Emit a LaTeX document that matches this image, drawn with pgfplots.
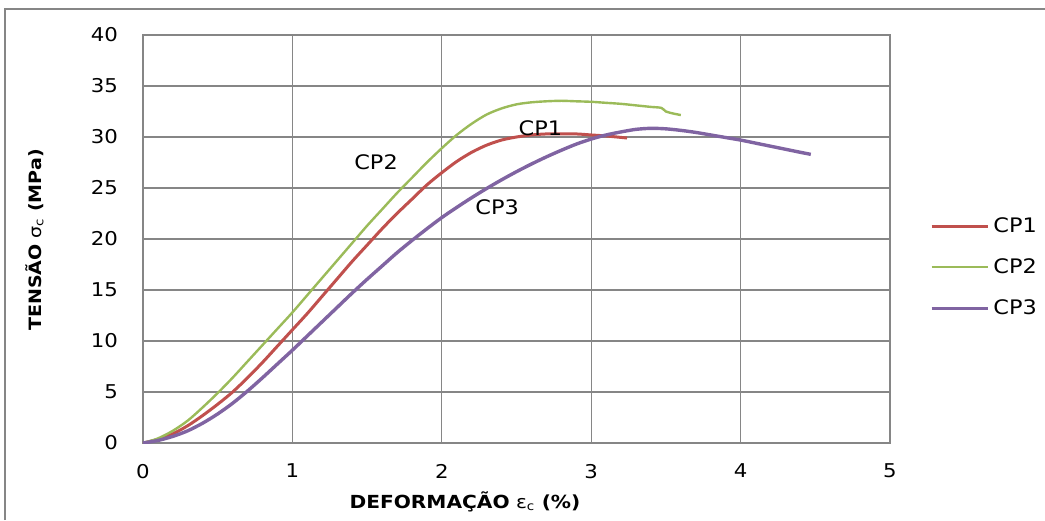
\documentclass[border=0pt]{standalone}
\usepackage{fontspec}
\setmainfont{DejaVu Sans}[FakeStretch=1.12]
\usepackage{pgfplots}
\pgfplotsset{compat=1.18}
\definecolor{cpred}{HTML}{C0504D}
\definecolor{cpgreen}{HTML}{9BBB59}
\definecolor{cppurple}{HTML}{8064A2}
\definecolor{gridgray}{HTML}{868686}

\begin{document}
\begin{tikzpicture}
\useasboundingbox (0,0) rectangle (522.5pt,260pt);
\draw[gridgray, line width=1pt] (2.5pt,0pt) -- (2.5pt,255.5pt) -- (522.5pt,255.5pt);
\begin{axis}[
  at={(71.5pt,38.5pt)}, anchor=south west,
  scale only axis, width=373.5pt, height=204pt,
  xmin=0, xmax=5, ymin=0, ymax=40,
  xtick={0,1,2,3,4,5}, ytick={0,5,10,15,20,25,30,35,40},
  grid=major,
  major grid style={gridgray, line width=0.6pt},
  axis line style={gridgray, line width=0.9pt},
  major tick length=0pt,
  tick label style={font=\fontsize{9.5}{11}\selectfont},
  /pgf/number format/assume math mode=true,
  xticklabel style={yshift=-7pt},
  yticklabel style={xshift=-9pt},
  xlabel={\textbf{DEFORMAÇÃO} ε\textsubscript{c} \textbf{(\%)}},
  ylabel={\textbf{TENSÃO} σ\textsubscript{c} \textbf{(MPa)}},
  xlabel style={at={(axis description cs:0.431,-0.145)}, anchor=center, font=\fontsize{9}{11}\selectfont},
  ylabel style={at={(axis description cs:-0.145,0.4975)}, anchor=center, font=\fontsize{8.5}{10}\selectfont},
  legend style={at={(rel axis cs:1.045,0.574)}, anchor=north west, draw=none, fill=none,
    font=\fontsize{10}{12}\selectfont, row sep=7.6pt},
  legend cell align=left,
  legend image code/.code={\draw[#1] (0pt,0pt) -- (28pt,0pt);},
]
\addplot[cpred, line width=1.5pt, smooth] coordinates {
(0,0) (0.1,0.35) (0.2,0.9) (0.3,1.7) (0.4,2.7) (0.5,3.8) (0.6,5.0) (0.7,6.4) (0.8,7.9) (0.9,9.5)
(1.0,11.1) (1.1,12.7) (1.2,14.4) (1.3,16.1) (1.4,17.8) (1.5,19.4) (1.6,21.0) (1.7,22.5) (1.8,23.9)
(1.9,25.3) (2.0,26.5) (2.1,27.6) (2.2,28.5) (2.3,29.2) (2.4,29.7) (2.5,30.0) (2.6,30.2) (2.7,30.3)
(2.8,30.3) (2.9,30.3) (3.0,30.2) (3.1,30.1) (3.24,29.9)};
\addlegendentry{CP1}
\addplot[cpgreen, line width=1.2pt, smooth] coordinates {
(0,0) (0.1,0.45) (0.2,1.2) (0.3,2.2) (0.4,3.5) (0.5,4.9) (0.6,6.4) (0.7,8.0) (0.8,9.6) (0.9,11.2)
(1.0,12.8) (1.1,14.5) (1.2,16.2) (1.3,17.9) (1.4,19.6) (1.5,21.3) (1.6,22.9) (1.7,24.5) (1.8,26.0)
(1.9,27.5) (2.0,28.9) (2.1,30.2) (2.2,31.3) (2.3,32.2) (2.4,32.8) (2.5,33.2) (2.6,33.4) (2.7,33.5)
(2.8,33.55) (2.9,33.5) (3.0,33.45) (3.1,33.35) (3.2,33.25) (3.3,33.1) (3.4,32.95) (3.47,32.85)
(3.5,32.5) (3.55,32.3) (3.6,32.15)};
\addlegendentry{CP2}
\addplot[cppurple, line width=1.7pt, smooth] coordinates {
(0,0) (0.1,0.25) (0.2,0.65) (0.3,1.2) (0.4,1.95) (0.5,2.85) (0.6,3.9) (0.7,5.1) (0.8,6.4) (0.9,7.75)
(1.0,9.1) (1.1,10.5) (1.2,11.9) (1.3,13.3) (1.4,14.7) (1.5,16.05) (1.6,17.35) (1.7,18.65) (1.8,19.85)
(1.9,21.0) (2.0,22.1) (2.1,23.1) (2.2,24.05) (2.3,24.95) (2.4,25.8) (2.5,26.6) (2.6,27.35) (2.7,28.05)
(2.8,28.7) (2.9,29.3) (3.0,29.8) (3.1,30.2) (3.2,30.5) (3.3,30.75) (3.4,30.85) (3.5,30.8) (3.6,30.65)
(3.7,30.45) (3.8,30.2) (3.9,29.95) (4.0,29.7) (4.1,29.4) (4.2,29.1) (4.3,28.8) (4.4,28.5) (4.47,28.3)};
\addlegendentry{CP3}
\node[font=\fontsize{10}{12}\selectfont] at (axis cs:2.66,30.9) {CP1};
\node[font=\fontsize{10}{12}\selectfont] at (axis cs:1.56,27.5) {CP2};
\node[font=\fontsize{10}{12}\selectfont] at (axis cs:2.37,23.1) {CP3};
\end{axis}
\end{tikzpicture}
\end{document}
